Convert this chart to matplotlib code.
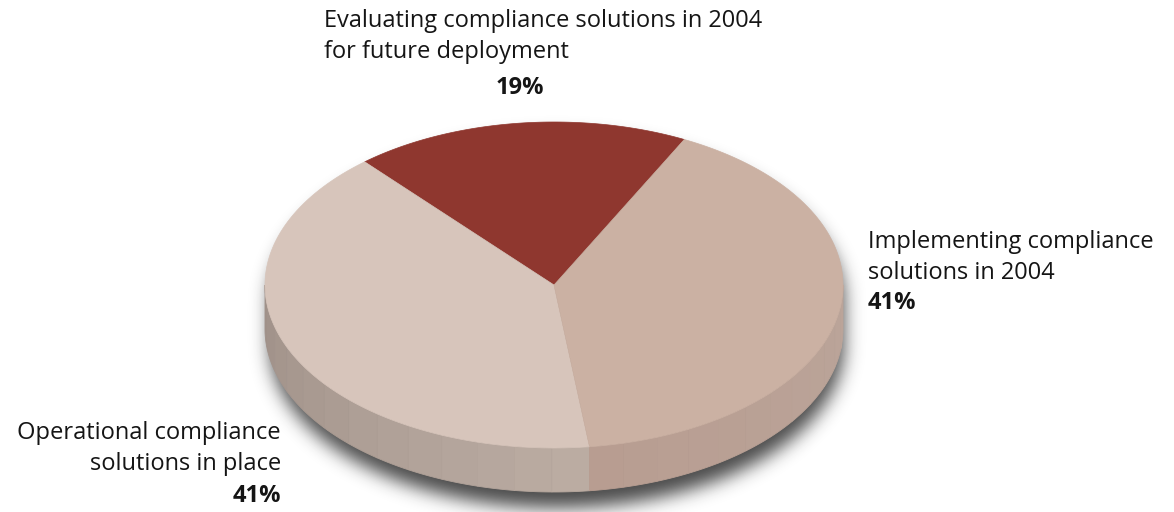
import numpy as np
import matplotlib.pyplot as plt
from matplotlib.patches import Polygon

# survey answers, drawn counter-clockwise from the top slice
labels = [["Evaluating compliance solutions in 2004", "for future deployment"],
          ["Operational compliance", "solutions in place"],
          ["Implementing compliance", "solutions in 2004"]]
values = [19, 41, 41]
pct_text = ["19%", "41%", "41%"]

top_colors = ["#8f372f", "#d7c5bb", "#cbb1a3"]
# side colour at the start / end of each slice's visible wall
side_colors = [("#7a2c25", "#7a2c25"), ("#9f9088", "#bcada3"), ("#b89d91", "#bba59a")]

W, H = 1174, 512
cx, cy = 554, 285        # centre of top face (pixels)
rx, ry = 289, 163        # ellipse radii
depth = 44
start = 63.2

plt.rcParams['font.family'] = ['Open Sans', 'DejaVu Sans']

fig = plt.figure(figsize=(W / 100, H / 100), dpi=100)
ax = fig.add_axes([0, 0, 1, 1])
ax.set_xlim(0, W)
ax.set_ylim(H, 0)
ax.axis('off')


def rim(t, dy=0.0):
    t = np.radians(t)
    return np.column_stack([cx + rx * np.cos(t), cy - ry * np.sin(t) + dy])


def mix(c1, c2, f):
    a = np.array([int(c1[i:i + 2], 16) for i in (1, 3, 5)]) / 255
    b = np.array([int(c2[i:i + 2], 16) for i in (1, 3, 5)]) / 255
    return tuple(a + (b - a) * f)


def blur(img, sigma):
    k = np.arange(-3 * sigma, 3 * sigma + 1)
    k = np.exp(-k ** 2 / (2 * sigma ** 2))
    k /= k.sum()
    img = np.apply_along_axis(lambda r: np.convolve(r, k, mode='same'), 1, img)
    img = np.apply_along_axis(lambda c: np.convolve(c, k, mode='same'), 0, img)
    return img


# soft drop shadow under the pie body
yy, xx = np.mgrid[0:H, 0:W] + 0.5
mask = np.zeros((H, W))
for off in np.arange(0, depth + 1, 2):
    inside = ((xx - cx - 3) / (rx - 2)) ** 2 + ((yy - cy - 16 - off) / ry) ** 2 <= 1
    mask[inside] = 1
shadow = blur(mask, 9)
rgba = np.zeros((H, W, 4))
rgba[..., :3] = 0.12
rgba[..., 3] = shadow * 0.8
ax.imshow(rgba, extent=(0, W, H, 0), zorder=0, interpolation='bilinear')

# slice angles
fracs = np.array(values) / sum(values) * 360
edges = start + np.concatenate([[0], np.cumsum(fracs)])

# front wall, split into facets
for i in range(len(values)):
    a0, a1 = edges[i], edges[i + 1]
    for shift in (0, 360):
        lo = max(a0 + shift, 180)
        hi = min(a1 + shift, 360)
        if hi <= lo:
            continue
        n = max(1, int(np.ceil((hi - lo) / 7.5)))
        cuts = np.linspace(lo, hi, n + 1)
        for j in range(n):
            ts = np.linspace(cuts[j], cuts[j + 1], 12)
            pts = np.vstack([rim(ts), rim(ts[::-1], depth)])
            f = (0.5 * (cuts[j] + cuts[j + 1]) - lo) / (hi - lo)
            col = mix(side_colors[i][0], side_colors[i][1], f)
            ax.add_patch(Polygon(pts, closed=True, facecolor=col,
                                 edgecolor=mix(side_colors[i][0], side_colors[i][1], f * 0.9),
                                 lw=0.6, zorder=2))

# top face
for i in range(len(values)):
    ts = np.linspace(edges[i], edges[i + 1], 200)
    pts = np.vstack([[cx, cy], rim(ts)])
    ax.add_patch(Polygon(pts, closed=True, facecolor=top_colors[i],
                         edgecolor=top_colors[i], lw=0.5, zorder=3))

# labels, one text per line (baselines in pixels)
fs = 17
ink = '#151515'


def label(x, ys, lines, pct, ha, pct_y, pct_x=None):
    for y, s in zip(ys, lines):
        ax.text(x, y, s, ha=ha, va='baseline', fontsize=fs, color=ink)
    ax.text(x if pct_x is None else pct_x, pct_y, pct,
            ha=ha if pct_x is None else 'center', va='baseline',
            fontsize=fs, fontweight='bold', color=ink)


label(324, [27, 58], labels[0], pct_text[0], 'left', 94, pct_x=520)
label(868, [248, 279], labels[2], pct_text[2], 'left', 309)
label(281, [439, 470], labels[1], pct_text[1], 'right', 502)

fig.savefig('out.png', dpi=100, facecolor='white')
